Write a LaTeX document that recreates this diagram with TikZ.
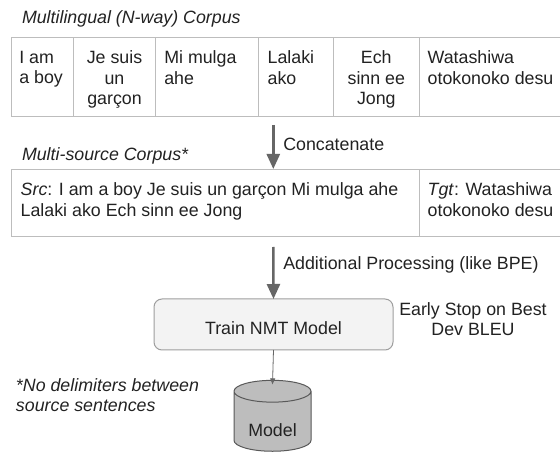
\documentclass[tikz,border=0pt]{standalone}
\usepackage{fontspec}
\setmainfont{Liberation Sans}
\usetikzlibrary{shapes.geometric,arrows.meta}
\definecolor{gridgray}{HTML}{BDBDBD}
\definecolor{arrowgray}{HTML}{666666}
\definecolor{boxfill}{HTML}{F3F3F3}
\definecolor{boxline}{HTML}{9E9E9E}
\definecolor{cylfill}{HTML}{BDBDBD}
\definecolor{cylline}{HTML}{595959}
\definecolor{ink}{HTML}{222222}
\begin{document}
\begin{tikzpicture}[x=1pt,y=-1pt,
  lbl/.style={font=\fontsize{17.8}{20.4}\selectfont, text=ink, inner sep=0pt, outer sep=0pt},
  ital/.style={lbl, font=\fontsize{17.8}{20.4}\selectfont\itshape},
  gridline/.style={draw=gridgray, line width=1pt},
  bigarrow/.style={draw=arrowgray, line width=2.6pt, -{Triangle[width=13pt,length=15pt]}},
  thinarrow/.style={draw=arrowgray, line width=0.8pt, -{Triangle[width=5pt,length=6pt]}},
  trainbox/.style={lbl, draw=boxline, fill=boxfill, line width=1pt, rounded corners=8pt,
    minimum width=239pt, minimum height=51pt, text height=24pt, text depth=3.7pt},
  dbshape/.style={lbl, cylinder, shape border rotate=90, aspect=0.45, draw=cylline,
    fill=cylfill, line width=1pt, minimum width=77pt, minimum height=60pt,
    text height=34pt, text depth=3.7pt}
]
\useasboundingbox (0,0) rectangle (560,454);
\fill[white] (0,0) rectangle (560,454);

% titles
\node[ital, anchor=base west] (t1) at (22,23.5) {Multilingual (N-way) Corpus};
\node[ital, anchor=base west] (t2) at (22,161) {Multi-source Corpus*};

% top table grid
\draw[gridline] (11.3,37.3) -- (560,37.3);
\draw[gridline] (11.3,116.7) -- (560,116.7);
\draw[gridline] (11.3,37.3) -- (11.3,116.7);
\foreach \cx in {73.3,155.7,258.3,333.3,419.3}
  \draw[gridline] (\cx,37.3) -- (\cx,116.7);

% top table cells
\node[lbl, anchor=north west, align=left] (c1) at (19.3,50.8) {I am\\a boy};
\node[lbl, anchor=north, align=center] (c2) at (114.5,50.8) {Je suis\\un\\garçon};
\node[lbl, anchor=north west, align=left] (c3) at (164.3,50.8) {Mi mulga\\ahe};
\node[lbl, anchor=north west, align=left] (c4) at (267.7,50.8) {Lalaki\\ako};
\node[lbl, anchor=north, align=center] (c5) at (376.3,50.8) {Ech\\sinn ee\\Jong};
\node[lbl, anchor=north west, align=left] (c6) at (427.7,50.8) {Watashiwa\\otokonoko desu};

% concatenate arrow
\coordinate (a1s) at (273.3,125);
\coordinate (a1e) at (273.3,169);
\draw[bigarrow] (a1s) -- (a1e);
\node[lbl, anchor=base west] (cat) at (283.3,151) {Concatenate};

% multi-source box
\draw[gridline] (11,169.5) -- (560,169.5);
\draw[gridline] (11,237) -- (560,237);
\draw[gridline] (11,169.5) -- (11,237);
\draw[gridline] (419.3,169.5) -- (419.3,237);
\node[lbl, anchor=north west, align=left] (src) at (20.7,183)
  {\textit{Src}: I am a boy Je suis un garçon Mi mulga ahe\\Lalaki ako Ech sinn ee Jong};
\node[lbl, anchor=north west, align=left] (tgt) at (427.7,183)
  {\textit{Tgt}: Watashiwa\\otokonoko desu};

% processing arrow
\node[trainbox] (train) at (273.5,324.5) {Train NMT Model};
\coordinate (a2s) at (273.3,247);
\draw[bigarrow] (a2s) -- (train.north);
\node[lbl, anchor=base west] (proc) at (283.3,270) {Additional Processing (like BPE)};

% early stop
\node[lbl, anchor=north, align=center] (early) at (473,302.5) {Early Stop on Best\\Dev BLEU};

% note
\node[ital, anchor=north west, align=left] (note) at (16,378.5) {*No delimiters between\\source sentences};

% model cylinder
\node[dbshape] (model) at (272.5,421.5) {Model};
\draw[thinarrow] (train.south) -- ([yshift=-4pt]model.top);
\end{tikzpicture}
\end{document}
